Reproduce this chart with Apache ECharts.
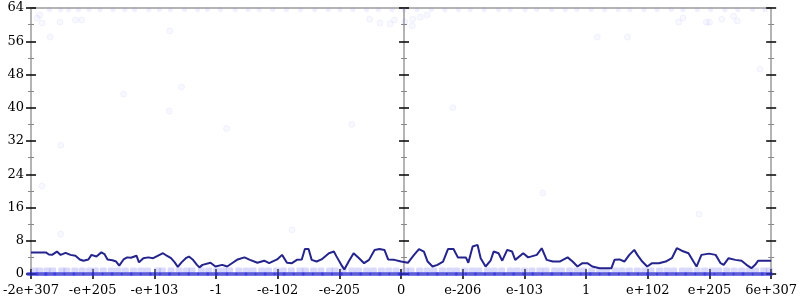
<!DOCTYPE html>
<html><head><meta charset="utf-8">
<script src="https://cdn.jsdelivr.net/npm/echarts@6/dist/echarts.min.js"></script>
<style>html,body{margin:0;padding:0;background:#fff}#c{width:800px;height:300px}</style>
</head><body><div id="c"></div>
<script>
// x tick labels (positions 0..12 on the ordered float axis)
const xTickLabels = ['-2e+307','-e+205','-e+103','-1','-e-102','-e-205','0','e-206','e-103','1','e+102','e+205','6e+307'];
const yTicks = [0,8,16,24,32,40,48,56,64];

// smoothed curve: x positions (axis units) and values
const lineX = [0,0.24,0.29,0.34,0.42,0.48,0.56,0.64,0.72,0.79,0.85,0.93,0.98,1.06,1.14,1.19,1.24,1.32,1.38,1.43,1.50,1.56,1.62,1.71,1.75,1.82,1.90,1.98,2.06,2.14,2.20,2.27,2.33,2.38,2.44,2.51,2.56,2.62,2.69,2.73,2.78,2.91,2.99,3.10,3.18,3.27,3.35,3.46,3.55,3.67,3.78,3.86,3.99,4.07,4.15,4.23,4.31,4.39,4.44,4.50,4.55,4.63,4.71,4.83,4.91,4.95,5.03,5.08,5.15,5.23,5.31,5.40,5.48,5.57,5.65,5.73,5.79,5.89,6.00,6.11,6.21,6.29,6.37,6.43,6.51,6.59,6.68,6.76,6.85,6.92,7.05,7.09,7.16,7.24,7.29,7.37,7.45,7.50,7.58,7.64,7.72,7.80,7.85,7.98,8.06,8.20,8.28,8.36,8.46,8.57,8.70,8.78,8.86,8.94,9.02,9.10,9.22,9.41,9.46,9.54,9.62,9.70,9.78,9.83,9.91,9.99,10.07,10.18,10.29,10.39,10.47,10.55,10.66,10.74,10.79,10.87,10.99,11.10,11.18,11.23,11.31,11.42,11.52,11.60,11.68,11.74,11.79,12.00];
const lineY = [5.2,5.2,4.7,4.6,5.4,4.6,5.1,4.6,4.4,3.5,3.2,3.5,4.6,4.2,5.2,4.8,3.5,3.3,3.0,2.0,3.5,4.0,3.9,4.4,2.8,3.8,4.0,3.8,4.4,5.0,4.4,3.8,2.8,1.7,2.8,3.8,4.2,3.5,2.2,1.6,2.2,2.7,1.8,2.2,1.8,2.7,3.5,4.0,3.4,2.7,3.2,2.6,3.5,4.6,2.7,2.6,3.4,3.5,6.0,6.0,3.4,3.0,3.5,5.0,5.4,4.3,2.2,1.1,3.0,5.0,3.9,2.6,3.4,5.8,6.0,5.8,3.5,3.4,3.0,2.7,4.6,6.0,5.4,3.0,1.8,2.2,3.0,6.0,6.0,4.0,4.0,2.7,6.6,7.0,3.8,1.8,3.2,5.4,5.0,3.2,5.8,5.4,3.4,5.0,4.0,4.6,6.2,3.4,3.0,3.0,4.0,3.0,1.8,2.6,2.6,1.8,1.4,1.4,3.4,3.5,3.0,4.6,5.8,4.6,3.0,1.8,2.6,2.6,3.0,3.8,6.2,5.6,5.0,3.0,1.8,4.6,4.9,4.6,2.6,2.2,3.8,3.4,3.2,2.2,1.4,2.2,3.2,3.2];

// individual samples: dense rows at 0 and ~1, a row at the top, sparse ones between
const zeroRowX = [0.02,0.17,0.31,0.46,0.62,0.77,0.93,1.08,1.24,1.39,1.55,1.70,1.86,2.01,2.17,2.32,2.48,2.63,2.79,2.94,3.10,3.25,3.41,3.56,3.72,3.87,4.03,4.18,4.34,4.49,4.65,4.80,4.96,5.11,5.27,5.42,5.58,5.73,5.89,6.04,6.20,6.35,6.51,6.66,6.82,6.97,7.13,7.28,7.44,7.59,7.75,7.90,8.06,8.21,8.37,8.52,8.68,8.83,8.99,9.14,9.30,9.45,9.61,9.76,9.92,10.07,10.23,10.38,10.54,10.69,10.85,11.00,11.16,11.31,11.47,11.62,11.78,11.93];
const oneRowX = [0.05,0.14,0.26,0.35,0.50,0.58,0.71,0.83,0.95,1.04,1.17,1.30,1.41,1.53,1.66,1.78,1.89,2.05,2.13,2.27,2.40,2.52,2.61,2.76,2.88,3.01,3.12,3.22,3.37,3.49,3.60,3.74,3.85,3.98,4.09,4.22,4.36,4.45,4.58,4.70,4.84,4.93,5.06,5.20,5.31,5.44,5.55,5.68,5.80,5.92,6.07,6.16,6.30,6.42,6.53,6.67,6.79,6.90,7.03,7.15,7.26,7.40,7.51,7.63,7.77,7.88,8.00,8.12,8.25,8.35,8.49,8.60,8.73,8.85,8.96,9.09,9.22,9.33,9.47,9.58,9.70,9.83,9.95,10.05,10.19,10.31,10.42,10.56,10.67,10.80,10.92,11.04,11.15,11.28,11.40,11.52,11.64,11.75,11.88,11.97];
const topRowX = [0.30,0.48,0.61,0.77,0.94,1.12,1.33,1.52,1.68,1.91,2.08,2.26,2.49,2.70,2.86,3.07,3.31,3.52,3.70,3.92,4.14,4.37,4.60,4.82,5.01,5.22,5.44,5.63,5.85,6.05,6.26,6.49,6.71,6.93,7.12,7.35,7.58,7.77,8.01,8.20,8.44,8.66,8.85,9.08,9.30,9.52,9.71,9.94,10.15,10.38,10.57,10.80,11.02,11.25,11.46,11.70,11.90];
const sparsePts = [[0.10,61.6],[0.14,62.3],[0.18,60.4],[0.31,57],[0.47,60.6],[0.72,61.1],[0.82,61.1],[2.25,58.5],[1.50,43.3],[2.44,45],[2.24,39.2],[0.48,31],[0.18,21.2],[10.50,60.6],[10.57,61.6],[10.95,60.6],[11.0,60.6],[11.20,61.3],[11.39,62],[11.45,60.9],[9.67,57],[11.82,49.3],[5.49,61.3],[5.66,60.4],[5.82,60.2],[5.89,61.1],[6.06,60.6],[6.19,61.3],[6.18,59.7],[6.31,61.8],[6.42,62.3],[4.23,10.6],[10.83,14.4],[0.48,9.6],[9.18,57],[6.84,40],[5.20,36],[3.17,35],[8.30,19.5]];
const zeroRowY = 0, oneRowY = 0.95, topRowY = 63.6;

const chart = echarts.init(document.getElementById('c'), null, {renderer:'canvas'});
const FONT = 'DejaVu Serif';
const AX = '#b4b4b4';
function yAx(position, offset, inside, showLabel) {
  return {type:'value', min:0, max:64, interval:8, position, offset,
    axisLine:{show:true, onZero:false, lineStyle:{color:AX, width:2}},
    axisTick:{show:true, inside, length:5, lineStyle:{color:'#000', width:1.5}},
    minorTick:{show:true, splitNumber:2, length:3, lineStyle:{color:'#888', width:1}},
    splitLine:{show:false},
    axisLabel:{show:showLabel, fontFamily:FONT, fontSize:13, color:'#000', margin:7,
      formatter: v => yTicks.includes(v) ? String(v) : ''}
  };
}
function xAx(position, inside, showLabel, showTick) {
  return {type:'value', min:0, max:12, interval:1, position,
    axisLine:{show:true, onZero:false, lineStyle:{color:AX, width:2}},
    axisTick:{show:showTick, inside, length:5, lineStyle:{color:'#000', width:1.5}},
    splitLine:{show:false},
    axisLabel:{show:showLabel, fontFamily:FONT, fontSize:13, color:'#000', margin:10,
      formatter: v => xTickLabels[Math.round(v)] || ''}
  };
}
chart.setOption({
  animation:false,
  grid:{left:27, right:27, top:8, bottom:26, containLabel:false},
  xAxis:[xAx('bottom', false, true, true), xAx('bottom', true, false, true), xAx('top', false, false, false)],
  yAxis:[yAx('left',0,false,true), yAx('left',0,true,false), yAx('left',-373,false,false), yAx('left',-373,true,false), yAx('right',0,false,false), yAx('right',0,true,false)],
  series:[
    {type:'scatter', symbol:'roundRect', symbolSize:[7,5], itemStyle:{color:'rgba(150,150,245,0.45)'}, data: oneRowX.map(x=>[x,oneRowY]), z:2},
    {type:'scatter', symbol:'roundRect', symbolSize:[12,4], itemStyle:{color:'rgba(45,45,225,0.8)'}, data: zeroRowX.map(x=>[x,zeroRowY]), z:3},
    {type:'scatter', symbolSize:5, itemStyle:{color:'rgba(120,120,255,0.14)'}, data: topRowX.map(x=>[x,topRowY]), z:2},
    {type:'scatter', symbolSize:6, itemStyle:{color:'rgba(100,100,255,0.06)', borderColor:'rgba(100,100,255,0.09)', borderWidth:1}, data: sparsePts, z:2},
    {type:'line', data: lineX.map((x,i)=>[x,lineY[i]]), showSymbol:false, symbol:'none',
      lineStyle:{color:'#24248c', width:2}, z:5}
  ]
});
</script></body></html>
